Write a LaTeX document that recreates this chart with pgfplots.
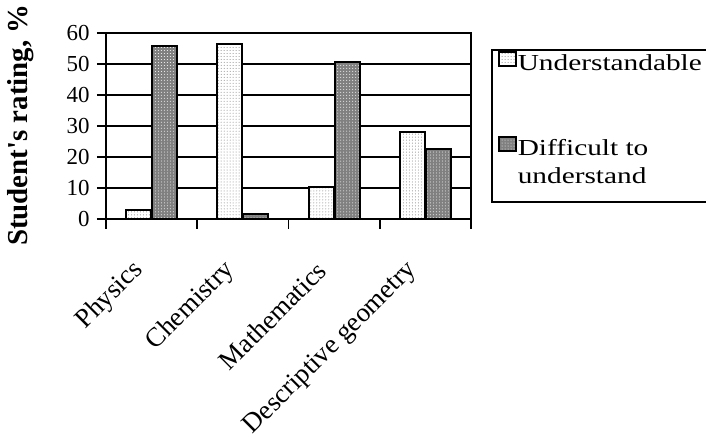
\documentclass[border=0pt]{standalone}
\usepackage{fontspec}
\setmainfont{Liberation Serif}
\newfontfamily\wideserif[FakeStretch=1.28]{Liberation Serif}
\usepackage{pgfplots}
\pgfplotsset{compat=1.18}
\usetikzlibrary{patterns}
\begin{document}
\begin{tikzpicture}[x=1bp,y=1bp]
\begin{axis}[
  at={(106bp,220bp)}, anchor=south west,
  scale only axis, width=365bp, height=186bp,
  ymin=0, ymax=60, ytick={0,10,...,60},
  xmin=-0.5, xmax=3.5,
  xtick={0,1,2,3},
  xticklabels={Physics,Chemistry,Mathematics,Descriptive geometry},
  major x tick style={draw=none},
  minor xtick={-0.5,0.5,1.5,2.5,3.5},
  minor x tick style={line width=1.8bp, black},
  minor tick length=10bp,
  major tick length=9bp,
  tick align=outside, tick pos=left,
  ytick style={line width=1.8bp, black},
  ymajorgrids, grid style={line width=1.6bp, black},
  axis line style={line width=2bp},
  ybar=1bp, bar width=25bp,
  /pgf/number format/assume math mode=true,
  yticklabel style={font=\fontsize{23}{26}\selectfont, xshift=-4bp},
  xticklabel style={font=\fontsize{27}{30}\selectfont, xshift=-10bp, yshift=-36bp, rotate=45, anchor=east},
  ylabel={Student\textquotesingle s rating, \%},
  ylabel style={font=\fontsize{29}{30}\selectfont\bfseries, at={(axis description cs:-0.235,0.505)}, anchor=center},
  legend style={at={(axis description cs:1.0548,0.914)}, anchor=north west,
    draw=black, line width=2bp, font=\wideserif\fontsize{23}{28}\selectfont,
    row sep=0bp, inner xsep=6bp, inner ysep=1bp,
    cells={anchor=base west},
    nodes={inner sep=1bp}},
  legend image code/.code={\draw[#1, line width=1.8bp] (0bp,-1bp) rectangle (17bp,13bp);},
  legend cell align=left,
]
\addplot[draw=black, line width=1.8bp, fill=white, postaction={pattern=dots, pattern color=gray}]
  coordinates {(0,3.0) (1,56.5) (2,10.4) (3,28.1)};
\addlegendentry[text height=16bp, text depth=5bp]{Understandable}
\addlegendimage{empty legend}
\addlegendentry[text height=58bp, text depth=0bp]{}
\addplot[draw=black, line width=1.8bp, fill=gray, postaction={pattern=dots, pattern color=white}]
  coordinates {(0,55.7) (1,1.7) (2,50.7) (3,22.7)};
\addlegendentry[text height=16bp, text depth=5bp]{Difficult to}
\addlegendimage{empty legend}
\addlegendentry[text height=21bp, text depth=16bp]{understand}
\end{axis}
\pgfresetboundingbox
\useasboundingbox (0,0) rectangle (706bp,439bp);
\end{tikzpicture}
\end{document}
